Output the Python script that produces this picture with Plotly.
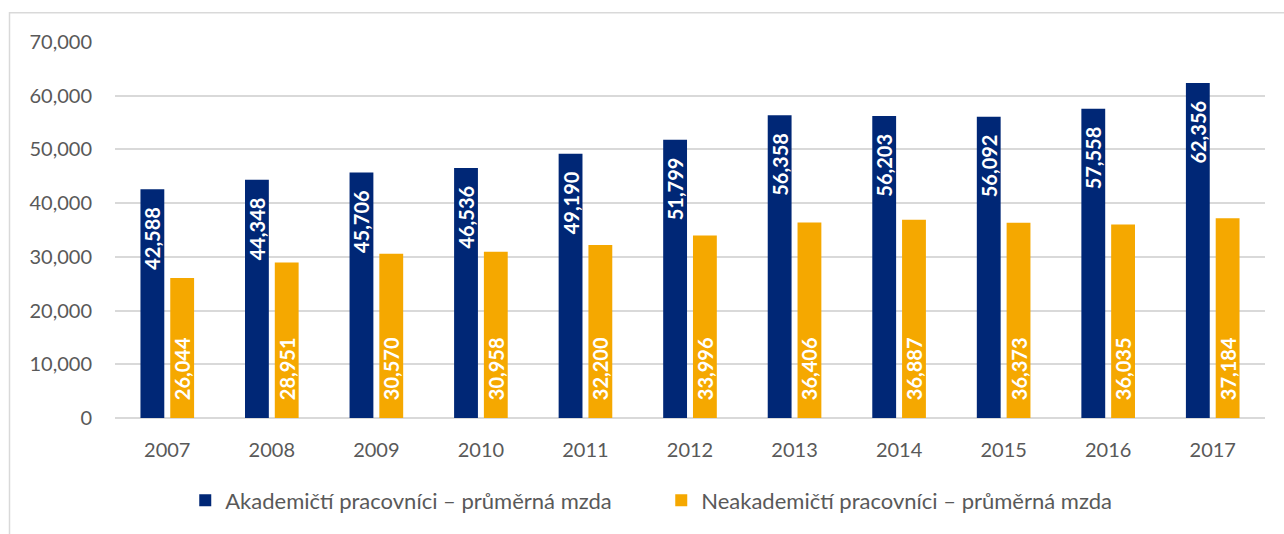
import plotly.graph_objects as go

years = ["2007", "2008", "2009", "2010", "2011", "2012", "2013", "2014", "2015", "2016", "2017"]
akademicti = [42588, 44348, 45706, 46536, 49190, 51799, 56358, 56203, 56092, 57558, 62356]
neakademicti = [26044, 28951, 30570, 30958, 32200, 33996, 36406, 36887, 36373, 36035, 37184]
name_a = "Akademičtí pracovníci – průměrná mzda"
name_n = "Neakademičtí pracovníci – průměrná mzda"

FONT = "Lato, 'Open Sans', sans-serif"
GRAY = "#595959"
PAD = "\u2002\u00a0"

fig = go.Figure()
fig.add_trace(go.Bar(
    x=years, y=akademicti, name=name_a, marker=dict(color="#002776", line=dict(width=0)),
    text=[f"{v:,}{PAD}" for v in akademicti], textposition="inside", insidetextanchor="end",
    textangle=-90, constraintext="none",
    textfont=dict(color="white", size=20, family=FONT, weight="bold"),
))
fig.add_trace(go.Bar(
    x=years, y=neakademicti, name=name_n, marker=dict(color="#F5A800", line=dict(width=0)),
    text=[f"{PAD}{v:,}" for v in neakademicti], textposition="inside", insidetextanchor="start",
    textangle=-90, constraintext="none",
    textfont=dict(color="white", size=20, family=FONT, weight="bold"),
))

L, R, T, B = 115, 19, 42, 114
W, H = 1284, 534
pw, ph = W - L - R, H - T - B

def px_x(p):
    return (p - L) / pw

def px_y(p):
    return (H - B - p) / ph

fig.update_layout(
    width=W, height=H,
    margin=dict(l=L, r=R, t=T, b=B),
    paper_bgcolor="white", plot_bgcolor="white",
    barmode="group", bargap=0.43, bargroupgap=0.2,
    font=dict(family=FONT, color=GRAY, size=20),
    xaxis=dict(showgrid=False, tickfont=dict(size=20, color=GRAY), ticks="",
               showline=False, ticklabelstandoff=18),
    yaxis=dict(range=[0, 70000], dtick=10000, tickformat=",", showgrid=True,
               gridcolor="#D9D9D9", gridwidth=1.5, zeroline=True, zerolinecolor="#D9D9D9",
               zerolinewidth=1.5, tickfont=dict(size=20, color=GRAY), ticks="",
               ticklabelstandoff=22),
    legend=dict(orientation="h", x=0.475, xanchor="center", y=px_y(503), yanchor="middle",
                font=dict(size=22, color=GRAY), tracegroupgap=0, itemsizing="constant",
                entrywidth=431, entrywidthmode="pixels"),
    showlegend=True,
    shapes=[dict(type="rect", xref="paper", yref="paper",
                 x0=px_x(9.5), y0=px_y(560), x1=px_x(1300), y1=px_y(12.5),
                 line=dict(color="#D9D9D9", width=1.5), fillcolor="rgba(0,0,0,0)",
                 layer="below")],
)

fig.write_html("out.html", config={"displayModeBar": False},
               post_script="document.body.style.margin='0';document.body.style.overflow='hidden';")
